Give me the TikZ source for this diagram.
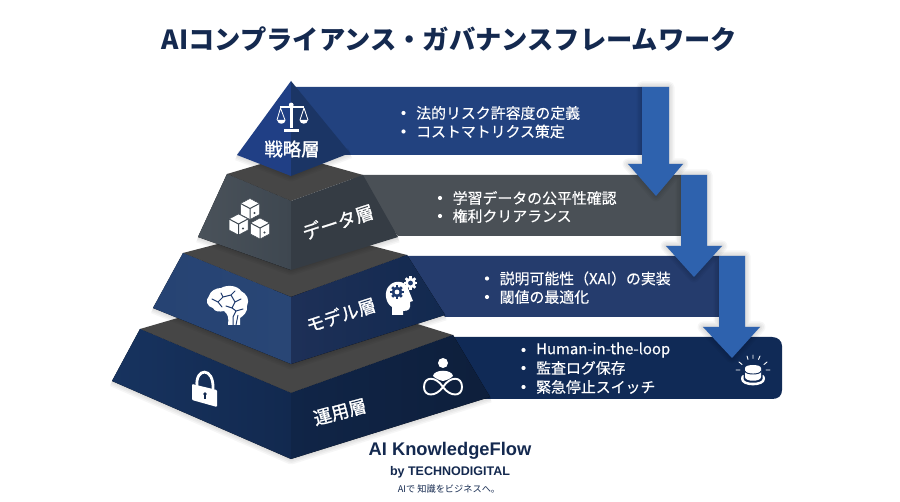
\documentclass[tikz,border=0pt]{standalone}
\usepackage{fontspec}
\setmainfont{Noto Sans CJK JP}
\newfontfamily\latinb{Liberation Sans}
\newfontfamily\jpm[FakeBold=0.35]{Noto Sans CJK JP}
\newfontfamily\jplabel[FakeBold=1.2]{Noto Sans CJK JP}
\usetikzlibrary{calc}
\definecolor{navy}{HTML}{12294F}
\definecolor{titlec}{HTML}{14294F}
\definecolor{topgray}{HTML}{464646}
\definecolor{arrowc}{HTML}{2E62AE}
\definecolor{bandA}{HTML}{22427F}
\definecolor{bandB}{HTML}{4A5056}
\definecolor{bandC}{HTML}{253C6D}
\definecolor{bandD}{HTML}{102A56}
\definecolor{iconinkA}{HTML}{3E4750}
\definecolor{iconinkB}{HTML}{1E3A6E}
\definecolor{opsleft}{HTML}{17335F}
\definecolor{modelleft}{HTML}{264373}
\definecolor{modelmid}{HTML}{294675}
\definecolor{dataleft}{HTML}{4A525A}
\tikzset{
  x=1pt,y=-1pt,
  bullettext/.style={text=white,font=\jpm\fontsize{14.9}{18}\selectfont,anchor=west,inner sep=0pt},
  tierlabel/.style={text=white,inner sep=0pt},
  flowarrow/.style={fill=arrowc,draw=none},
  softshadow/.style={draw=black,draw opacity=.035,line join=round},
  topface/.style={fill=topgray},
}
\newcommand{\shadowpoly}[1]{%
  \foreach \w in {2,5,8,11}{\draw[softshadow,line width=\w pt] #1;}}
\newcommand{\bulletline}[4]{%
  \fill[white] (#1,#2) circle (2.1);
  \node[bullettext] (#4) at (#1+12.5,#2) {#3};}
\newcommand{\isocube}[3]{% x y r
  \fill[white,draw=iconinkA,line width=.5pt,line join=round] (#1,#2-#3) -- (#1+#3*.95,#2-#3*.5) -- (#1+#3*.95,#2+#3*.6) -- (#1,#2+#3*1.1) -- (#1-#3*.95,#2+#3*.6) -- (#1-#3*.95,#2-#3*.5) -- cycle;
  \draw[iconinkA,line width=1pt,line join=round] (#1-#3*.95,#2-#3*.5) -- (#1,#2) -- (#1+#3*.95,#2-#3*.5) (#1,#2) -- (#1,#2+#3*1.1);
  \fill[iconinkA] (#1+#3*.45,#2+#3*.45) circle (1.2);}
\newcommand{\gearicon}[5]{% x y r fg hole
  \foreach \a in {0,45,...,315}{\draw[#4,line width=#3*.5 pt] (#1,#2) -- ++(\a:#3*1.28);}
  \fill[#4] (#1,#2) circle (#3);
  \fill[#5] (#1,#2) circle (#3*.45);}
\begin{document}
\begin{tikzpicture}
\useasboundingbox (0,0) rectangle (900,502);
\fill[white] (0,0) rectangle (900,502);

\node[text=titlec,font=\bfseries\fontsize{26.3}{30}\selectfont,inner sep=0pt] (title) at (449.5,39.5) {AIコンプライアンス・ガバナンスフレームワーク};

% bands
\fill[bandD] (450,337) -- (772,337) .. controls (778,337) and (782,341) .. (782,346) -- (782,390) .. controls (782,396) and (778,399) .. (772,399) -- (480,399) -- cycle;
\fill[bandC] (400,256) -- (719,256) -- (719,317) -- (445,317) -- cycle;
\fill[bandB] (350,175) -- (681,175) -- (681,236) -- (398,236) -- cycle;
\fill[bandA] (291,87) -- (642,87) -- (642,155) -- (345,155) -- cycle;

% arrows with shadows
\shadowpoly{(719,256) -- (745,256) -- (745,327) -- (760,327) -- (732,358) -- (703,327) -- (719,327) -- cycle}
\fill[flowarrow] (719,256) -- (745,256) -- (745,327) -- (760,327) -- (732,358) -- (703,327) -- (719,327) -- cycle;
\shadowpoly{(681,175) -- (707,175) -- (707,246) -- (722,246) -- (694,277) -- (666,246) -- (681,246) -- cycle}
\fill[flowarrow] (681,175) -- (707,175) -- (707,246) -- (722,246) -- (694,277) -- (666,246) -- (681,246) -- cycle;
\shadowpoly{(642,87) -- (669,87) -- (669,164) -- (683,164) -- (656,196) -- (628,164) -- (642,164) -- cycle}
\fill[flowarrow] (642,87) -- (669,87) -- (669,164) -- (683,164) -- (656,196) -- (628,164) -- (642,164) -- cycle;

% tier 4: operations
\shadowpoly{(112,381) -- (291,459) -- (490,397)}
\fill[topface] (140,329) -- (291,285) -- (453,335) -- (291,393) -- cycle;
\fill[left color=opsleft,right color=navy] (140,329) -- (291,393) -- (291,459) -- (112,381) -- cycle;
\fill[left color=navy!90!black,right color=navy!75!black] (291,393) -- (453,335) -- (490,397) -- (291,459) -- cycle;

% tier 3: model
\shadowpoly{(153,308) -- (291,364) -- (445,315)}
\fill[topface] (183,253) -- (291,225) -- (407,255) -- (291,297) -- cycle;
\fill[left color=modelleft,right color=modelmid] (183,253) -- (291,297) -- (291,364) -- (153,308) -- cycle;
\fill[left color=bandC!80!black,right color=navy] (291,297) -- (407,255) -- (445,315) -- (291,364) -- cycle;

% tier 2: data
\shadowpoly{(198,237) -- (291,270) -- (398,237)}
\fill[topface] (227,174) -- (291,155) -- (363,175) -- (291,201) -- cycle;
\fill[left color=dataleft,right color=iconinkA] (227,174) -- (291,201) -- (291,270) -- (198,237) -- cycle;
\fill[fill=iconinkA!85!black] (291,201) -- (363,175) -- (398,237) -- (291,270) -- cycle;

% tier 1: strategy
\shadowpoly{(237,155) -- (291,176) -- (350,153)}
\fill[bandA!95!blue] (291,81) -- (291,176) -- (237,155) -- cycle;
\fill[bandA!80!black] (291,81) -- (350,153) -- (291,176) -- cycle;

% tier labels
\node[tierlabel,font=\jplabel\fontsize{18.4}{22}\selectfont] (lab1) at (292,149) {戦略層};
\node[tierlabel,rotate=18,font=\jplabel\fontsize{18.4}{22}\selectfont] (lab2) at (338,222) {データ層};
\node[tierlabel,rotate=18,font=\jplabel\fontsize{18}{22}\selectfont] (lab3) at (341,315) {モデル層};
\node[tierlabel,rotate=15,font=\jplabel\fontsize{18}{22}\selectfont] (lab4) at (340,412) {運用層};

% bullets
\bulletline{403.5}{113}{法的リスク許容度の定義}{b11}
\bulletline{403.5}{131.5}{コストマトリクス策定}{b12}
\bulletline{440}{198}{学習データの公平性確認}{b21}
\bulletline{440}{216}{権利クリアランス}{b22}
\bulletline{487}{278.5}{説明可能性（XAI）の実装}{b31}
\bulletline{487}{297}{閾値の最適化}{b32}
\bulletline{523.5}{350}{Human-in-the-loop}{b41}
\bulletline{523.5}{368}{監査ログ保存}{b42}
\bulletline{523.5}{387}{緊急停止スイッチ}{b43}

% scale icon
\begin{scope}[white]
\fill (290,103) rectangle (292.5,128);
\fill (280,106) rectangle (304,108.5);
\fill (291.2,105) circle (2.4);
\fill (284,129) rectangle (299,132);
\draw[line width=.8pt] (280.5,108) -- (277,120) (280.5,108) -- (285,120) (304,108) -- (300,120) (304,108) -- (308,120);
\fill (277,120) -- (285.5,120) .. controls (285,125) and (278,125) .. (277,120) -- cycle;
\fill (299.5,120) -- (308,120) .. controls (307.5,125) and (300,125) .. (299.5,120) -- cycle;
\end{scope}

% cubes icon
\isocube{250}{208.5}{10}
\isocube{238.5}{224}{10}
\isocube{260}{228}{10}

% brain icon
\fill[white] (228,325) .. controls (229,318) and (228,314) .. (224,311) .. controls (219,312) and (215,312) .. (213,308) .. controls (207,307) and (205,300) .. (209,296) .. controls (210,291) and (216,288) .. (221,288) .. controls (228,284) and (238,286) .. (241,291) .. controls (247,294) and (250,300) .. (247,306) .. controls (248,312) and (243,316) .. (240,318) -- (240,325) -- cycle;
\draw[iconinkB,line width=1pt,line cap=round,line join=round] (212,299) -- (218,302) -- (222,307) (218,302) -- (223,297) -- (221,293) (223,297) -- (231,295) -- (235,291) (231,295) -- (235,302) -- (241,299) (235,302) -- (232,308) -- (226,306) (232,308) -- (236,311) -- (243,309) (236,311) -- (233,317) -- (233,325);
\draw[iconinkB,line width=.9pt] (238,315) -- (236,325);

% head with gears icon
\fill[white] (392,315) -- (392,307) .. controls (385,303) and (384,291) .. (389,286) .. controls (394,280) and (404,280) .. (408,288) .. controls (410,294) and (411,296) .. (413,301) -- (410,302) .. controls (411,309) and (409,311) .. (403,311) -- (403,315) -- cycle;
\gearicon{397}{292}{5.3}{iconinkB}{white}
\gearicon{410.5}{283}{5.3}{white}{iconinkB}

% lock icon
\draw[white,line width=2.8pt] (197,386) .. controls (195,368) and (214,366) .. (213,389);
\fill[white,rounded corners=1pt] (192,384) -- (217,390) -- (217,407) -- (192,400) -- cycle;
\fill[navy] (205,394) circle (1.9);
\fill[navy] (204.2,394) rectangle (205.8,399);

% person with infinity icon
\fill[white] (443,363) circle (5);
\fill[white] (433,376) .. controls (434,369) and (452,369) .. (453,376) .. controls (450,379) and (447,380) .. (443,381) .. controls (439,380) and (436,379) .. (433,376) -- cycle;
\draw[white,line width=1.9pt] (443,387) .. controls (436,376) and (424,376) .. (424,387) .. controls (424,397) and (436,397) .. (443,387) .. controls (450,376) and (462,376) .. (462,387) .. controls (462,397) and (450,397) .. (443,387) -- cycle;

% button icon
\begin{scope}[white]
\fill (741,379) .. controls (741,387.5) and (765,387.5) .. (765,379) .. controls (765,375) and (762.5,375) .. (762.5,375) -- (762.5,379) .. controls (762.5,384) and (743.5,384) .. (743.5,379) -- (743.5,375) .. controls (743.5,375) and (741,375) .. (741,379) -- cycle;
\fill (745,368) .. controls (745,364) and (761,364) .. (761,368) -- (761,377) .. controls (761,382) and (745,382) .. (745,377) -- cycle;
\draw[bandD,line width=.9pt] (745,371) .. controls (745,375) and (761,375) .. (761,371);
\draw[line width=.9pt,line cap=round] (736,370) -- (740,370) (766,370) -- (770,370) (739,362) -- (742,364.5) (767,362) -- (764,364.5) (747,356) -- (748,359.5) (753,355) -- (753,358.5) (760,356) -- (758.5,359.5);
\end{scope}

% footer
\node[text=titlec,font=\latinb\bfseries\fontsize{18.3}{22}\selectfont,inner sep=0pt] (brand) at (450,451) {AI KnowledgeFlow};
\node[text=titlec,font=\latinb\bfseries\fontsize{12.5}{15}\selectfont,inner sep=0pt] (byline) at (450,472) {by TECHNODIGITAL};
\node[text=titlec,font=\fontsize{9.2}{12}\selectfont,inner sep=0pt] (tagline) at (449,489.5) {AIで 知識をビジネスへ。};
\end{tikzpicture}
\end{document}
